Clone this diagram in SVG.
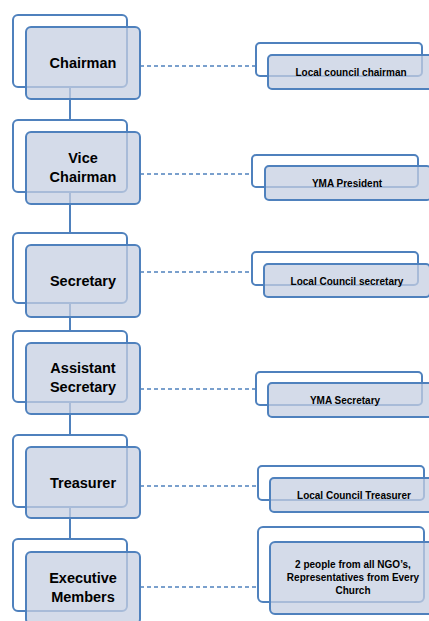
<svg xmlns="http://www.w3.org/2000/svg" width="429" height="621" viewBox="0 0 429 621">
<style>
.bk{fill:#ffffff;stroke:#4f81bd;stroke-width:2}
.fr{fill:#c5cfe1;fill-opacity:0.75;stroke:#4f81bd;stroke-width:2}
.lt{font-family:"Liberation Sans",Arial,sans-serif;font-weight:bold;font-size:14.5px;fill:#000;text-anchor:middle}
.rt{font-family:"Liberation Sans",Arial,sans-serif;font-weight:bold;font-size:10px;fill:#000;text-anchor:middle}
.v{stroke:#4f81bd;stroke-width:2;fill:none}
.d{stroke:#4f81bd;stroke-width:1.5;stroke-dasharray:4 3;fill:none}
</style>
<rect width="429" height="621" fill="#ffffff"/>
<g id="connectors">
<line class="v" x1="70" y1="87" x2="70" y2="120"/>
<line class="v" x1="70" y1="192" x2="70" y2="233"/>
<line class="v" x1="70" y1="303" x2="70" y2="331"/>
<line class="v" x1="70" y1="402" x2="70" y2="435"/>
<line class="v" x1="70" y1="507" x2="70" y2="539"/>
<line class="d" x1="140" y1="66" x2="256" y2="66"/>
<line class="d" x1="140" y1="174" x2="252" y2="174"/>
<line class="d" x1="140" y1="272" x2="252" y2="272"/>
<line class="d" x1="140" y1="389" x2="256" y2="389"/>
<line class="d" x1="140" y1="486" x2="258" y2="486"/>
<line class="d" x1="140" y1="587" x2="258" y2="587"/>
</g>
<g id="chairman">
<rect class="bk" x="13" y="15" width="114" height="72" rx="5"/>
<rect class="fr" x="26" y="27" width="114" height="72" rx="5"/>
<text class="lt" x="83" y="68">Chairman</text>
</g>
<g id="vice-chairman">
<rect class="bk" x="13" y="120" width="114" height="72" rx="5"/>
<rect class="fr" x="26" y="132" width="114" height="72" rx="5"/>
<text class="lt" x="83" y="163">Vice</text>
<text class="lt" x="83" y="182">Chairman</text>
</g>
<g id="secretary">
<rect class="bk" x="13" y="233" width="114" height="70" rx="5"/>
<rect class="fr" x="26" y="245" width="114" height="72" rx="5"/>
<text class="lt" x="83" y="286">Secretary</text>
</g>
<g id="assistant-secretary">
<rect class="bk" x="13" y="331" width="114" height="71" rx="5"/>
<rect class="fr" x="26" y="343" width="114" height="71" rx="5"/>
<text class="lt" x="83" y="373">Assistant</text>
<text class="lt" x="83" y="392">Secretary</text>
</g>
<g id="treasurer">
<rect class="bk" x="13" y="435" width="114" height="72" rx="5"/>
<rect class="fr" x="26" y="447" width="114" height="71" rx="5"/>
<text class="lt" x="83" y="488">Treasurer</text>
</g>
<g id="executive-members">
<rect class="bk" x="13" y="539" width="114" height="72" rx="5"/>
<rect class="fr" x="26" y="552" width="114" height="72" rx="5"/>
<text class="lt" x="83" y="583">Executive</text>
<text class="lt" x="83" y="602">Members</text>
</g>
<g id="local-council-chairman">
<rect class="bk" x="256" y="43" width="166" height="33" rx="4"/>
<rect class="fr" x="268" y="55" width="166" height="34" rx="4"/>
<text class="rt" x="351" y="75.5">Local council chairman</text>
</g>
<g id="yma-president">
<rect class="bk" x="252" y="155" width="166" height="32" rx="4"/>
<rect class="fr" x="265" y="166" width="166" height="34" rx="4"/>
<text class="rt" x="347" y="186.5">YMA President</text>
</g>
<g id="local-council-secretary">
<rect class="bk" x="252" y="252" width="166" height="33" rx="4"/>
<rect class="fr" x="264" y="264" width="166" height="33" rx="4"/>
<text class="rt" x="347" y="284.5">Local Council secretary</text>
</g>
<g id="yma-secretary">
<rect class="bk" x="256" y="372" width="166" height="33" rx="4"/>
<rect class="fr" x="268" y="383" width="166" height="34" rx="4"/>
<text class="rt" x="345" y="403.5">YMA Secretary</text>
</g>
<g id="local-council-treasurer">
<rect class="bk" x="258" y="466" width="166" height="34" rx="4"/>
<rect class="fr" x="270" y="478" width="166" height="34" rx="4"/>
<text class="rt" x="354" y="498.5">Local Council Treasurer</text>
</g>
<g id="ngo-representatives">
<rect class="bk" x="258" y="527" width="166" height="75" rx="5"/>
<rect class="fr" x="270" y="542" width="166" height="72" rx="5"/>
<text class="rt" x="353" y="567.5">2 people from all NGO’s,</text>
<text class="rt" x="353" y="580.5">Representatives from Every</text>
<text class="rt" x="353" y="593.5">Church</text>
</g>
</svg>
